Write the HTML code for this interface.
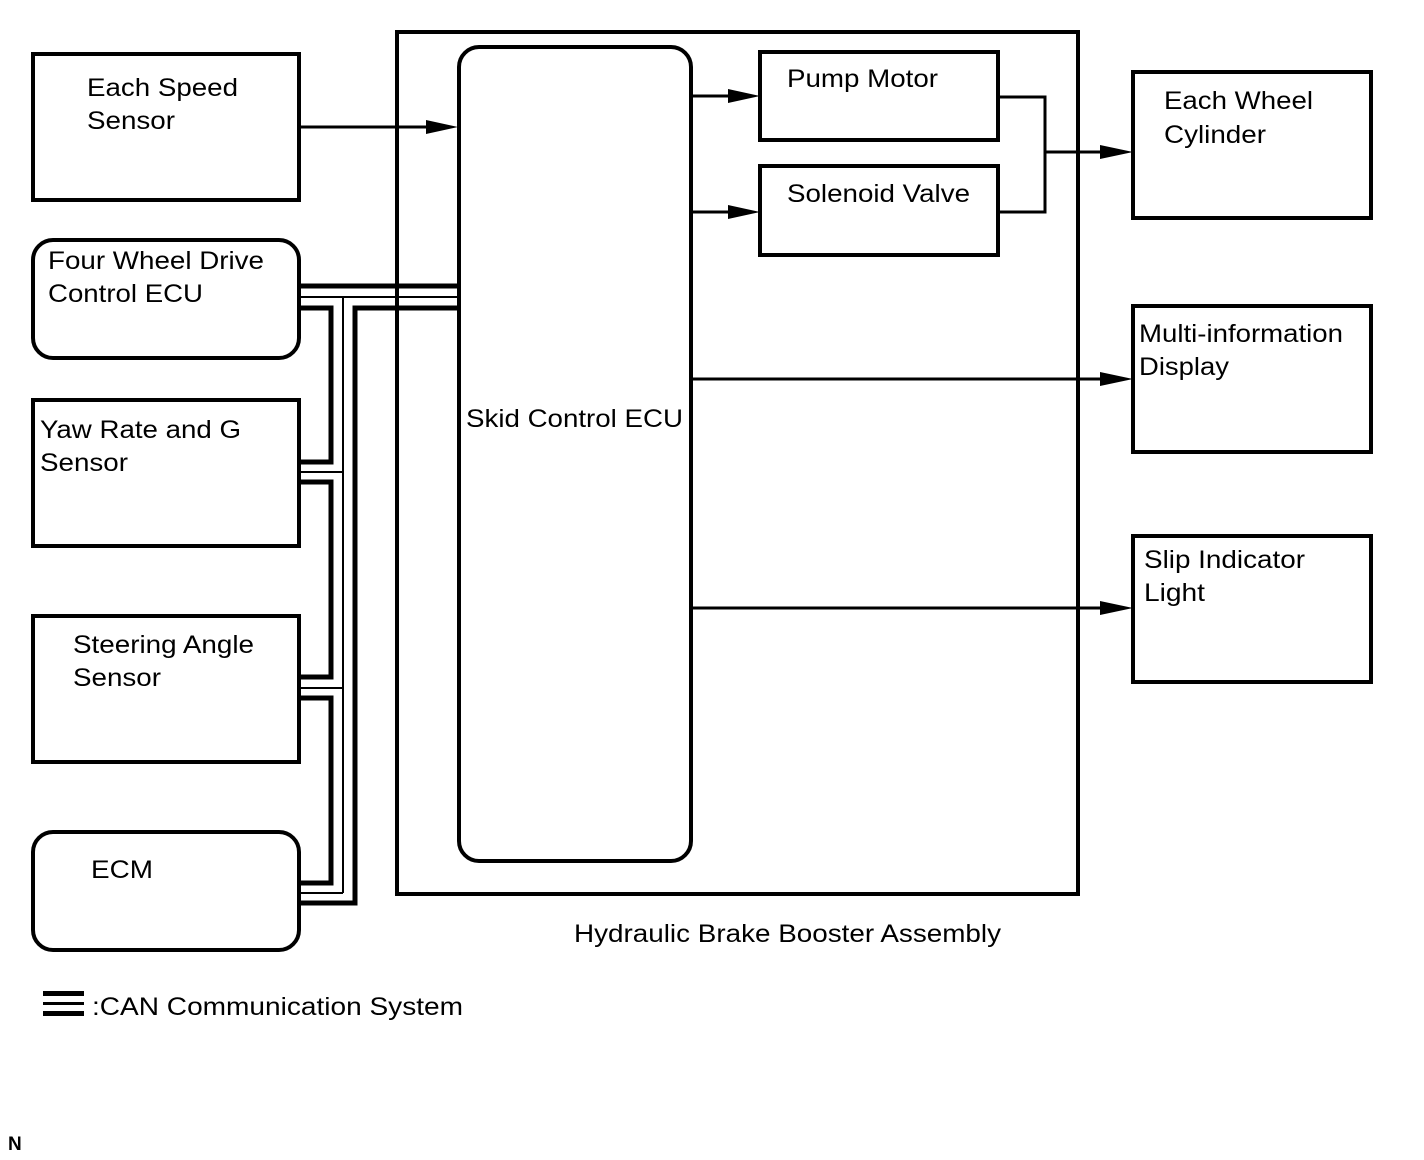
<!DOCTYPE html>
<html><head><meta charset="utf-8"><style>
html,body{margin:0;padding:0;background:#fff;}
svg{display:block;}
text{font-family:"Liberation Sans",Arial,sans-serif;font-size:25px;fill:#000;}
</style></head><body>
<svg width="1424" height="1160" viewBox="0 0 1424 1160" xmlns="http://www.w3.org/2000/svg">
<g fill="none" stroke="#000" stroke-width="4">
<rect x="397" y="32" width="681" height="862"/>
<rect x="459" y="47" width="232" height="814" rx="20"/>
<rect x="760" y="52" width="238" height="88"/>
<rect x="760" y="166" width="238" height="89"/>
<rect x="33" y="54" width="266" height="146"/>
<rect x="33" y="240" width="266" height="118" rx="20"/>
<rect x="33" y="400" width="266" height="146"/>
<rect x="33" y="616" width="266" height="146"/>
<rect x="33" y="832" width="266" height="118" rx="20"/>
<rect x="1133" y="72" width="238" height="146"/>
<rect x="1133" y="306" width="238" height="146"/>
<rect x="1133" y="536" width="238" height="146"/>
</g>
<g fill="none" stroke="#000" stroke-width="3">
<line x1="300" y1="127" x2="446" y2="127"/>
<line x1="693" y1="96" x2="748" y2="96"/>
<line x1="693" y1="212" x2="748" y2="212"/>
<polyline points="998,97 1045,97 1045,212 998,212"/>
<line x1="1045" y1="152" x2="1121" y2="152"/>
<line x1="693" y1="379" x2="1121" y2="379"/>
<line x1="693" y1="608" x2="1121" y2="608"/>
</g>
<g fill="#000">
<path d="M426,120 L458,127 L426,134 z"/>
<path d="M728,89 L760,96 L728,103 z"/>
<path d="M728,205 L760,212 L728,219 z"/>
<path d="M1100,145 L1133,152 L1100,159 z"/>
<path d="M1100,372 L1133,379 L1100,386 z"/>
<path d="M1100,601 L1133,608 L1100,615 z"/>
</g>
<g fill="none" stroke="#000" stroke-width="5" stroke-linejoin="miter">
<line x1="300" y1="286" x2="458" y2="286"/>
<polyline points="458,308 355,308 355,903 300,903"/>
<polyline points="300,308 331,308 331,462 300,462"/>
<polyline points="300,482 331,482 331,677 300,677"/>
<polyline points="300,698 331,698 331,883 300,883"/>
</g>
<g fill="none" stroke="#000" stroke-width="2">
<line x1="300" y1="297" x2="458" y2="297"/>
<line x1="343" y1="297" x2="343" y2="893"/>
<line x1="300" y1="472" x2="343" y2="472"/>
<line x1="300" y1="688" x2="343" y2="688"/>
<line x1="300" y1="893" x2="343" y2="893"/>
</g>
<g fill="#000">
<rect x="43" y="991" width="41" height="5"/>
<rect x="43" y="1002" width="41" height="3"/>
<rect x="43" y="1011" width="41" height="5"/>
</g>
<g lengthAdjust="spacingAndGlyphs">
<text x="87" y="96" textLength="151" lengthAdjust="spacingAndGlyphs">Each Speed</text>
<text x="87" y="129" textLength="88" lengthAdjust="spacingAndGlyphs">Sensor</text>
<text x="48" y="269" textLength="216" lengthAdjust="spacingAndGlyphs">Four Wheel Drive</text>
<text x="48" y="302" textLength="155" lengthAdjust="spacingAndGlyphs">Control ECU</text>
<text x="40" y="438" textLength="201" lengthAdjust="spacingAndGlyphs">Yaw Rate and G</text>
<text x="40" y="471" textLength="88" lengthAdjust="spacingAndGlyphs">Sensor</text>
<text x="73" y="653" textLength="181" lengthAdjust="spacingAndGlyphs">Steering Angle</text>
<text x="73" y="686" textLength="88" lengthAdjust="spacingAndGlyphs">Sensor</text>
<text x="91" y="878" textLength="62" lengthAdjust="spacingAndGlyphs">ECM</text>
<text x="466" y="427" textLength="217" lengthAdjust="spacingAndGlyphs">Skid Control ECU</text>
<text x="787" y="87" textLength="151" lengthAdjust="spacingAndGlyphs">Pump Motor</text>
<text x="787" y="202" textLength="183" lengthAdjust="spacingAndGlyphs">Solenoid Valve</text>
<text x="1164" y="109" textLength="149" lengthAdjust="spacingAndGlyphs">Each Wheel</text>
<text x="1164" y="143" textLength="102" lengthAdjust="spacingAndGlyphs">Cylinder</text>
<text x="1139" y="342" textLength="204" lengthAdjust="spacingAndGlyphs">Multi-information</text>
<text x="1139" y="375" textLength="90" lengthAdjust="spacingAndGlyphs">Display</text>
<text x="1144" y="568" textLength="161" lengthAdjust="spacingAndGlyphs">Slip Indicator</text>
<text x="1144" y="601" textLength="61" lengthAdjust="spacingAndGlyphs">Light</text>
<text x="574" y="942" textLength="427" lengthAdjust="spacingAndGlyphs">Hydraulic Brake Booster Assembly</text>
<text x="92" y="1015" textLength="371" lengthAdjust="spacingAndGlyphs">:CAN Communication System</text>
</g>
<text x="8" y="1150" style="font-size:19px;font-weight:bold">N</text>
</svg>
</body></html>
